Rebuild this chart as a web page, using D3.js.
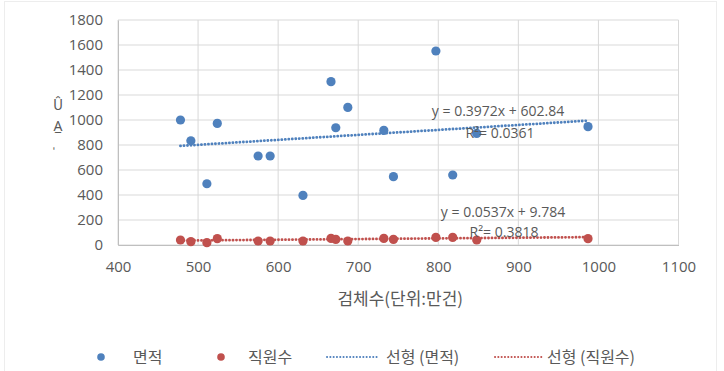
<!DOCTYPE html>
<html>
<head>
<meta charset="utf-8">
<script src="https://cdn.jsdelivr.net/npm/d3@7"></script>
<style>
  body { margin: 0; background: #fff; }
  text { font-family: "Noto Sans CJK KR", "Noto Sans", sans-serif; fill: #595959; }
</style>
</head>
<body>
<div id="chart"></div>
<script>
// 검체수 (x), 면적 / 직원수 (y)
const xValues = [478, 491, 511, 524, 575, 590, 631, 666, 672, 687, 732, 744, 797, 818, 848, 987];
const areaValues = [1000, 834, 490, 973, 712, 712, 397, 1307, 938, 1101, 917, 547, 1552, 560, 893, 947];
const staffValues = [40, 27, 19, 51, 32, 32, 32, 53, 45, 32, 53, 45, 61, 61, 40, 51];

const xTicks = [400, 500, 600, 700, 800, 900, 1000, 1100];
const yTicks = [0, 200, 400, 600, 800, 1000, 1200, 1400, 1600, 1800];

// trendline equations as printed on the chart
const areaTrend = {slope: 0.3972, intercept: 602.84, eq: "y = 0.3972x + 602.84", r2: "R²= 0.0361"};
const staffTrend = {slope: 0.0537, intercept: 9.784, eq: "y = 0.0537x + 9.784", r2: "R²= 0.3818"};

const blue = "#4F81BD";
const red = "#C0504D";

const margin = {top: 20, right: 45.5, bottom: 126, left: 118};
const W = 724, H = 371;
const width = W - margin.left - margin.right;
const height = H - margin.top - margin.bottom;

const svg = d3.select("#chart").append("svg")
    .attr("width", W)
    .attr("height", H);

// faint outer chart border
svg.append("rect")
    .attr("x", 4.5).attr("y", 1.5)
    .attr("width", 712).attr("height", 370)
    .attr("fill", "none")
    .attr("stroke", "#ededed");

const g = svg.append("g")
    .attr("transform", `translate(${margin.left},${margin.top})`);

const x = d3.scaleLinear().domain([400, 1100]).range([0, width]);
const y = d3.scaleLinear().domain([0, 1800]).range([height, 0]);

// gridlines
g.append("g").selectAll("line")
    .data(yTicks)
    .join("line")
    .attr("x1", 0).attr("x2", width)
    .attr("y1", d => y(d)).attr("y2", d => y(d))
    .attr("stroke", "#D9D9D9").attr("stroke-width", 1);
g.append("g").selectAll("line")
    .data(xTicks)
    .join("line")
    .attr("y1", 0).attr("y2", height)
    .attr("x1", d => x(d)).attr("x2", d => x(d))
    .attr("stroke", "#D9D9D9").attr("stroke-width", 1);

// axes (labels only, lines handled by grid)
const xAxis = g.append("g")
    .attr("transform", `translate(0,${height})`)
    .call(d3.axisBottom(x).tickValues(xTicks).tickSize(0).tickPadding(16).tickFormat(d3.format("d")));
const yAxis = g.append("g")
    .call(d3.axisLeft(y).tickValues(yTicks).tickSize(0).tickPadding(15).tickFormat(d3.format("d")));
[xAxis, yAxis].forEach(a => {
    a.select(".domain").attr("stroke", "#BFBFBF");
    a.selectAll("text")
        .style("font-family", "'Open Sans', 'Noto Sans', sans-serif")
        .style("font-size", "15px")
        .attr("fill", "#666");
});

// x axis title
g.append("text")
    .attr("x", width / 2 + 2)
    .attr("y", height + 60)
    .attr("text-anchor", "middle")
    .style("font-size", "17px")
    .text("검체수(단위:만건)");

// garbled y axis title glyphs
svg.append("text").attr("x", 58).attr("y", 110).attr("text-anchor", "middle")
    .style("font-size", "14px").text("Û");
svg.append("text").attr("x", 58).attr("y", 131).attr("text-anchor", "middle")
    .style("font-size", "14px").text("A̲");
svg.append("text").attr("x", 54).attr("y", 155).attr("text-anchor", "middle")
    .style("font-size", "10px").text("'");

// trendlines
const xMin = d3.min(xValues), xMax = d3.max(xValues);
function drawTrend(t, color) {
    g.append("line")
        .attr("x1", x(xMin)).attr("y1", y(t.slope * xMin + t.intercept))
        .attr("x2", x(xMax)).attr("y2", y(t.slope * xMax + t.intercept))
        .attr("stroke", color)
        .attr("stroke-width", 2.8)
        .attr("stroke-linecap", "round")
        .attr("stroke-dasharray", "0.1,3.4");
}
drawTrend(areaTrend, blue);
drawTrend(staffTrend, red);

// points
g.append("g").selectAll("circle")
    .data(xValues)
    .join("circle")
    .attr("cx", d => x(d))
    .attr("cy", (d, i) => y(areaValues[i]))
    .attr("r", 4.6)
    .attr("fill", blue);
g.append("g").selectAll("circle")
    .data(xValues)
    .join("circle")
    .attr("cx", d => x(d))
    .attr("cy", (d, i) => y(staffValues[i]))
    .attr("r", 4.6)
    .attr("fill", red);

// trendline labels
const labelStyle = sel => sel.style("font-family", "'Open Sans', 'Noto Sans', sans-serif")
    .style("font-size", "14px").attr("text-anchor", "middle").attr("fill", "#666");
svg.append("text").attr("x", 498).attr("y", 116).call(labelStyle).text(areaTrend.eq);
svg.append("text").attr("x", 500).attr("y", 138).call(labelStyle).text(areaTrend.r2);
svg.append("text").attr("x", 503).attr("y", 217).call(labelStyle).text(staffTrend.eq);
svg.append("text").attr("x", 504).attr("y", 237).call(labelStyle).text(staffTrend.r2);

// legend
const leg = svg.append("g").attr("transform", "translate(0,357)");
leg.append("circle").attr("cx", 101).attr("cy", 0).attr("r", 3.8).attr("fill", blue);
leg.append("text").attr("x", 133).attr("y", 0).attr("dy", "0.35em").style("font-size", "16px").text("면적");
leg.append("circle").attr("cx", 221).attr("cy", 0).attr("r", 3.8).attr("fill", red);
leg.append("text").attr("x", 248).attr("y", 0).attr("dy", "0.35em").style("font-size", "16px").text("직원수");
leg.append("line").attr("x1", 327).attr("x2", 377).attr("y1", 0).attr("y2", 0)
    .attr("stroke", blue).attr("stroke-width", 2).attr("stroke-linecap", "round").attr("stroke-dasharray", "0.1,3.2");
leg.append("text").attr("x", 386).attr("y", 0).attr("dy", "0.35em").style("font-size", "16px").text("선형 (면적)");
leg.append("line").attr("x1", 495).attr("x2", 543).attr("y1", 0).attr("y2", 0)
    .attr("stroke", red).attr("stroke-width", 2).attr("stroke-linecap", "round").attr("stroke-dasharray", "0.1,3.2");
leg.append("text").attr("x", 547).attr("y", 0).attr("dy", "0.35em").style("font-size", "16px").text("선형 (직원수)");
</script>
</body>
</html>
